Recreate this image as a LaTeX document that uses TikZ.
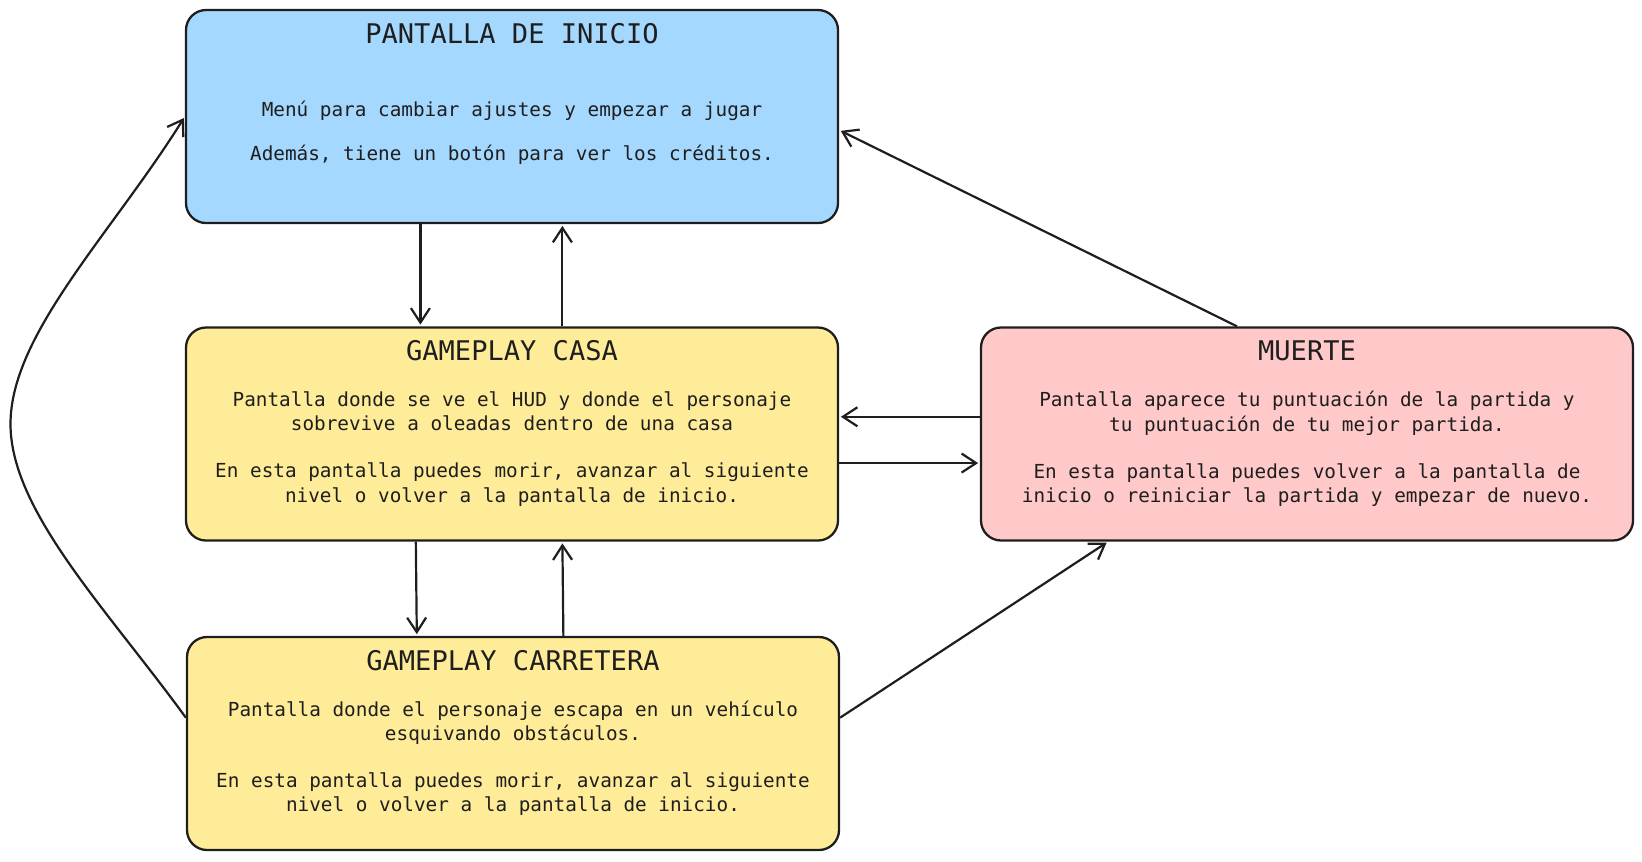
\documentclass[tikz,border=0pt]{standalone}
\usepackage{fontspec}
\usetikzlibrary{calc}
\usetikzlibrary{arrows.meta,positioning}
\newfontfamily\mono{DejaVu Sans Mono}
\definecolor{linea}{HTML}{1E1E1E}
\definecolor{azul}{HTML}{A5D8FF}
\definecolor{amarillo}{HTML}{FFEC99}
\definecolor{rojo}{HTML}{FFC9C9}
\def\titulofont{\mono\fontsize{15.4}{18}\selectfont}
\def\cuerpofont{\mono\fontsize{11}{13.9}\selectfont}

\begin{document}
\begin{tikzpicture}
    [pantalla/.style={draw=linea,line width=1.3pt,rounded corners=0.4cm,
        minimum width=13.04cm,minimum height=4.26cm,inner sep=0pt},
    titulo/.style={font=\titulofont,text=linea,inner sep=0pt},
    cuerpo/.style={font=\cuerpofont,text=linea,align=center,inner sep=0pt},
    flecha/.style={->,draw=linea,line width=1.25pt,shorten >=1pt},
    >={Straight Barb[length=2.9mm,width=3.8mm]}]

    % pantallas
    \node[pantalla,fill=azul] (inicio) at (10.24,-2.33) {};
    \node[pantalla,fill=amarillo] (casa) at (10.24,-8.68) {};
    \node[pantalla,fill=amarillo] (carretera) at (10.26,-14.87) {};
    \node[pantalla,fill=rojo] (muerte) at (26.14,-8.68) {};

    % textos
    \node[titulo] (inicio-t) at ($(inicio.north)+(0,-0.49)$) {PANTALLA DE INICIO};
    \node[cuerpo] (inicio-c) at ($(inicio.north)+(0,-2.48)$)
        {Menú para cambiar ajustes y empezar a jugar\\[10.8pt]
        Además, tiene un botón para ver los créditos.};

    \node[titulo] (casa-t) at ($(casa.north)+(0,-0.49)$) {GAMEPLAY CASA};
    \node[cuerpo] (casa-c) at ($(casa.north)+(0,-2.45)$)
        {Pantalla donde se ve el HUD y donde el personaje\\
        sobrevive a oleadas dentro de una casa\\[12.8pt]
        En esta pantalla puedes morir, avanzar al siguiente\\
        nivel o volver a la pantalla de inicio.};

    \node[titulo] (carretera-t) at ($(carretera.north)+(0,-0.49)$) {GAMEPLAY CARRETERA};
    \node[cuerpo] (carretera-c) at ($(carretera.north)+(0,-2.45)$)
        {Pantalla donde el personaje escapa en un vehículo\\
        esquivando obstáculos.\\[12.8pt]
        En esta pantalla puedes morir, avanzar al siguiente\\
        nivel o volver a la pantalla de inicio.};

    \node[titulo] (muerte-t) at ($(muerte.north)+(0,-0.49)$) {MUERTE};
    \node[cuerpo] (muerte-c) at ($(muerte.north)+(0,-2.45)$)
        {Pantalla aparece tu puntuación de la partida y\\
        tu puntuación de tu mejor partida.\\[12.8pt]
        En esta pantalla puedes volver a la pantalla de\\
        inicio o reiniciar la partida y empezar de nuevo.};

    % flechas
    \draw[flecha] ($(inicio.south west)!0.36!(inicio.south east)$) -- ($(casa.north west)!0.36!(casa.north east)$);
    \draw[flecha] ($(casa.north west)!0.577!(casa.north east)$) -- ($(inicio.south west)!0.577!(inicio.south east)$);
    \draw[flecha] ($(casa.south west)!0.353!(casa.south east)$) -- ($(carretera.north west)!0.353!(carretera.north east)$);
    \draw[flecha] ($(carretera.north west)!0.577!(carretera.north east)$) -- ($(casa.south west)!0.577!(casa.south east)$);
    \draw[flecha] ($(muerte.north west)!0.42!(muerte.south west)$) -- ($(casa.north east)!0.42!(casa.south east)$);
    \draw[flecha] ($(casa.north east)!0.635!(casa.south east)$) -- ($(muerte.north west)!0.635!(muerte.south west)$);
    \draw[flecha] ($(carretera.north east)!0.38!(carretera.south east)$) -- ($(muerte.south west)!0.196!(muerte.south east)$);
    \draw[flecha] ($(muerte.north west)!0.393!(muerte.north east)$) -- ($(inicio.north east)!0.563!(inicio.south east)$);

    % vuelta al inicio
    \coordinate (vuelta) at (0.21,-8.48);
    \draw[flecha] ($(carretera.north west)!0.38!(carretera.south west)$) to[out=126,in=-90,in looseness=0.65] (vuelta)
        to[out=90,in=-122,out looseness=0.65] (inicio.west);

    \pgfresetboundingbox
    \useasboundingbox (0,0) rectangle (32.84,-17.22);
\end{tikzpicture}
\end{document}
